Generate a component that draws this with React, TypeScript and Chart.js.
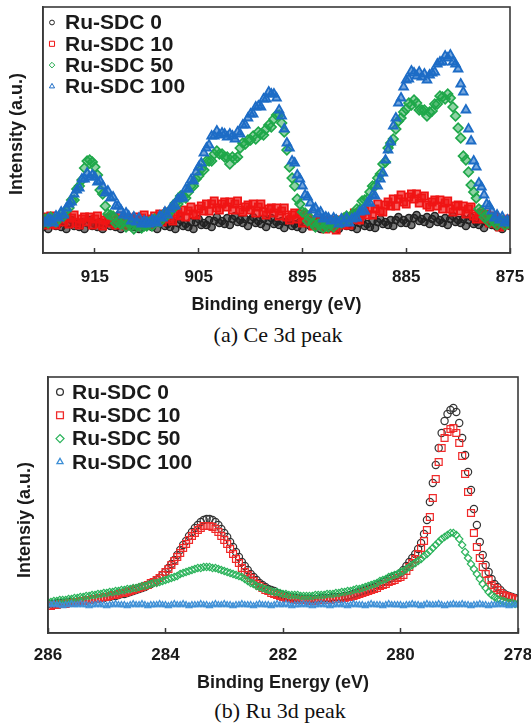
import React, { useEffect, useRef } from 'react';
import { Chart, registerables } from 'chart.js';
import { drawPoint } from 'chart.js/helpers';

Chart.register(...registerables);

// ---------------- shared ----------------
const SERIES_LABELS = ['Ru-SDC 0', 'Ru-SDC 10', 'Ru-SDC 50', 'Ru-SDC 100'];
const POINT_STYLES = ['circle', 'rect', 'rectRot', 'triangle'];

// ---------------- (a) Ce 3d peak ----------------
const CE_E_START = 920; // eV, first sample
const CE_E_STEP = 0.25; // eV between samples (decreasing)
const CE_TICKS = [915, 905, 895, 885, 875];
const CE_TITLE_X = 'Binding energy (eV)';
const CE_TITLE_Y = 'Intensity (a.u.)';
const CE_CAPTION = '(a) Ce 3d peak';

const CE_0 = [
  -3, 2, -5, 1, 4, -2, 0, -3, 2, -5,
  1, 4, -2, 0, -3, 2, -5, 1, 4, -2,
  0, -3, 2, -5, 1, 4, -2, 0, -3, 2,
  -5, 1, 4, -2, 0, -3, 2, -5, 1, 4,
  -2, 0, -3, 2, -5, 1, 4, -2, 0, -3,
  2, -5, 1, 4, -2, 0, -3, 2, -5, 2,
  5, -1, 1, -1, 4, -3, 3, 7, 1, 3,
  0, 6, -1, 5, 8, 2, 4, 1, 5, -2,
  4, 7, 1, 3, 0, 5, -3, 3, 6, 0,
  2, -1, 3, -4, 2, 5, -2, 0, -3, 2,
  -5, 1, 4, -2, 0, -3, 2, -5, 1, 4,
  -2, 0, -3, 2, -5, 1, 4, -2, 0, -3,
  2, -5, 1, 4, -2, 0, -3, 3, -4, 2,
  5, 0, 2, -1, 4, -2, 4, 7, 1, 4,
  1, 6, -1, 6, 9, 3, 5, 2, 7, 0,
  5, 8, 2, 4, 1, 6, -1, 5, 8, 2,
  4, 1, 5, -2, 4, 7, 0, 2, -1, 4,
  -4, 2, 5, -1, 0, -3, 2, -5, 1, 4,
  -2,
];
const CE_10 = [
  7, -1, 5, 8, 0, -1, 5, 7, 2, 8,
  0, 6, 9, 1, -1, 5, 7, 2, 7, -1,
  5, 8, 0, -2, 4, 6, 1, 7, -1, 5,
  8, 0, -2, 4, 6, 1, 7, 0, 6, 9,
  1, -1, 5, 8, 3, 10, 2, 9, 12, 5,
  3, 10, 12, 8, 14, 7, 13, 17, 10, 9,
  15, 18, 13, 20, 13, 20, 23, 16, 14, 20,
  22, 17, 22, 14, 20, 23, 14, 12, 17, 19,
  14, 20, 11, 17, 20, 12, 9, 15, 16, 11,
  16, 8, 13, 16, 7, 4, 9, 11, 5, 10,
  1, 7, 9, 1, -2, 3, 4, -1, 4, -5,
  1, 4, -4, -6, 1, 4, -1, 6, -1, 7,
  11, 5, 4, 11, 13, 9, 16, 9, 15, 20,
  13, 12, 19, 22, 18, 25, 18, 25, 29, 22,
  20, 27, 30, 25, 30, 21, 26, 28, 19, 17,
  22, 24, 18, 24, 15, 21, 23, 15, 12, 18,
  19, 13, 18, 10, 15, 17, 8, 5, 10, 11,
  5, 10, 1, 6, 8, 0, -3, 3, 4, -1,
  5,
];
const CE_50 = [
  1, 5, 1, 7, 4, 2, 7, 10, 8, 14,
  16, 24, 24, 35, 38, 44, 56, 63, 64, 62,
  57, 49, 34, 30, 18, 10, 9, 8, 1, 2,
  0, 2, -3, 2, -2, -5, -1, 0, -4, -2,
  -2, 2, -2, 5, 3, 2, 8, 11, 9, 14,
  15, 21, 20, 28, 27, 26, 32, 38, 38, 45,
  48, 55, 54, 63, 63, 63, 70, 73, 70, 70,
  67, 67, 60, 67, 65, 67, 76, 81, 80, 84,
  84, 88, 85, 92, 90, 89, 95, 99, 97, 105,
  109, 109, 101, 92, 74, 57, 46, 38, 25, 20,
  12, 11, 3, 6, 1, -3, 0, 0, -4, -2,
  -3, 1, -3, 4, 2, 1, 6, 8, 5, 9,
  9, 15, 14, 23, 24, 25, 32, 38, 38, 46,
  50, 60, 62, 76, 81, 85, 95, 103, 106, 112,
  115, 121, 119, 124, 121, 114, 114, 114, 108, 112,
  113, 120, 120, 128, 127, 125, 130, 126, 117, 108,
  96, 86, 68, 64, 52, 39, 32, 26, 15, 13,
  7, 8, 2, 6, 2, -1, 2, 3, -1, 1,
  0,
];
const CE_100 = [
  3, 1, 5, 4, 1, 8, 6, 12, 9, 16,
  20, 22, 30, 34, 36, 45, 45, 51, 47, 49,
  47, 42, 43, 38, 31, 33, 26, 27, 18, 18,
  14, 9, 11, 8, 3, 7, 2, 6, 0, 3,
  2, 0, 4, 3, 1, 8, 6, 12, 9, 15,
  18, 18, 25, 26, 26, 35, 35, 44, 43, 52,
  57, 61, 71, 76, 79, 88, 88, 93, 89, 91,
  90, 87, 90, 88, 85, 92, 90, 99, 99, 106,
  110, 110, 117, 118, 117, 125, 125, 132, 130, 130,
  126, 114, 108, 95, 81, 76, 63, 61, 49, 45,
  38, 29, 27, 21, 14, 16, 10, 12, 5, 7,
  6, 3, 6, 4, 0, 5, 1, 6, 1, 5,
  6, 6, 12, 13, 13, 21, 21, 29, 28, 38,
  45, 51, 64, 74, 82, 98, 106, 121, 126, 137,
  144, 145, 153, 151, 148, 152, 147, 150, 144, 149,
  151, 152, 160, 162, 162, 168, 166, 169, 162, 160,
  155, 140, 132, 114, 95, 83, 63, 57, 41, 37,
  29, 20, 18, 13, 6, 9, 4, 7, 1, 4,
  3,
];

// ---------------- (b) Ru 3d peak ----------------
const RU_E_START = 286;
const RU_E_STEP = 0.05;
const RU_TICKS = [286, 284, 282, 280, 278];
const RU_TITLE_X = 'Binding Energy (eV)';
const RU_TITLE_Y = 'Intensiy (a.u.)';
const RU_CAPTION = '(b) Ru 3d peak';

const RU_0 = [
  1, 1, 1, 2, 2, 2, 2, 3, 3, 3,
  3, 4, 4, 4, 5, 5, 6, 6, 7, 7,
  8, 8, 9, 9, 10, 11, 11, 12, 13, 14,
  15, 16, 17, 18, 20, 21, 23, 25, 27, 30,
  33, 37, 41, 45, 50, 55, 60, 64, 69, 73,
  77, 80, 83, 85, 86, 86, 85, 83, 80, 76,
  72, 68, 63, 58, 53, 48, 43, 39, 35, 31,
  28, 25, 22, 20, 18, 16, 15, 14, 12, 11,
  10, 9, 8, 8, 7, 7, 6, 6, 6, 6,
  6, 6, 6, 7, 7, 7, 7, 8, 8, 8,
  8, 9, 9, 10, 11, 12, 13, 14, 15, 16,
  17, 18, 20, 21, 23, 24, 26, 27, 29, 30,
  32, 35, 39, 43, 47, 51, 56, 62, 71, 85,
  103, 122, 140, 157, 172, 184, 191, 195, 197, 193,
  182, 167, 150, 133, 115, 96, 80, 63, 50, 40,
  33, 26, 21, 18, 15, 12, 10, 9, 8, 7,
  6,
];
const RU_10 = [
  -1, -1, 0, 0, 1, 1, 1, 2, 2, 3,
  3, 4, 4, 5, 5, 6, 6, 7, 7, 8,
  8, 9, 10, 10, 11, 12, 12, 13, 14, 15,
  16, 17, 18, 19, 20, 22, 23, 25, 27, 30,
  33, 36, 40, 44, 48, 52, 57, 61, 65, 69,
  72, 75, 77, 79, 79, 79, 78, 76, 73, 69,
  65, 61, 56, 51, 46, 42, 37, 33, 30, 27,
  24, 21, 19, 17, 15, 14, 12, 11, 10, 9,
  8, 7, 7, 6, 6, 5, 5, 5, 5, 4,
  4, 4, 5, 5, 5, 5, 5, 6, 6, 6,
  7, 7, 8, 8, 9, 10, 11, 12, 13, 14,
  15, 16, 17, 19, 20, 21, 23, 24, 25, 27,
  28, 30, 34, 38, 42, 46, 51, 57, 64, 75,
  88, 107, 126, 143, 157, 167, 173, 176, 177, 172,
  162, 149, 131, 113, 92, 72, 58, 47, 38, 31,
  25, 20, 17, 15, 12, 10, 9, 8, 7, 6,
  6,
];
const RU_50 = [
  3, 3, 4, 4, 5, 5, 5, 6, 6, 7,
  7, 8, 8, 9, 9, 10, 10, 11, 11, 12,
  12, 13, 13, 14, 14, 15, 15, 16, 16, 17,
  17, 18, 19, 19, 20, 21, 22, 22, 23, 24,
  25, 26, 27, 28, 29, 31, 32, 33, 34, 35,
  36, 37, 37, 38, 38, 38, 37, 37, 36, 35,
  34, 33, 32, 31, 30, 29, 28, 26, 24, 22,
  21, 19, 18, 17, 16, 15, 14, 13, 13, 12,
  11, 11, 10, 10, 10, 10, 9, 9, 9, 9,
  9, 10, 10, 10, 10, 11, 11, 11, 12, 12,
  13, 13, 14, 14, 15, 16, 16, 17, 18, 19,
  20, 21, 22, 24, 25, 26, 28, 29, 30, 31,
  33, 34, 36, 38, 40, 42, 44, 46, 49, 51,
  54, 57, 60, 63, 66, 68, 70, 72, 72, 70,
  66, 60, 53, 47, 41, 36, 31, 26, 21, 17,
  13, 10, 8, 6, 5, 4, 3, 2, 2, 1,
  1,
];
const RU_100 = [
  0, 0, 1, 0, 0, -1, 0, 0, 1, 0,
  0, 1, 0, 0, -1, 0, 0, 1, 0, 0,
  -1, 0, 0, 1, 0, 0, 0, -1, 0, 1,
  0, 0, 1, 0, -1, 0, 0, 0, 1, 0,
  0, -1, 0, 1, 0, 0, 1, 0, -1, 0,
  0, 0, 1, 0, 0, -1, 0, 1, 0, 0,
  1, 0, 0, -1, 0, 0, 1, 0, 0, 0,
  -1, 0, 1, 0, 0, 0, -1, 0, 1, 0,
  0, 1, 0, -1, 0, 0, 0, 1, 0, 0,
  -1, 0, 0, 1, 0, 0, -1, 0, 0, 1,
  0, 0, -1, 0, 1, 0, 0, 0, -1, 0,
  1, 0, 0, 0, -1, 0, 1, 0, 0, 0,
  0, -1, 0, 0, 1, 0, 0, -1, 0, 1,
  0, 0, 0, 1, 0, -1, 0, 0, 1, 0,
  0, 1, 0, 0, -1, 0, 0, 1, 0, 0,
  -1, 0, 0, 0, 1, 0, 0, -1, 0, 0,
  0,
];

// ---------------- styling ----------------
const SANS = '"Liberation Sans", Arial, Helvetica, sans-serif';
const SERIF = '"Liberation Serif", "Times New Roman", Times, serif';
const TEXT = '#1a1a1a';
const FRAME = '#3a3a3a';

const framePlugin = {
  id: 'frame',
  afterDatasetsDraw(chart: any, _a: any, opts: any) {
    const { ctx, chartArea: a } = chart;
    ctx.save();
    ctx.strokeStyle = opts.color || FRAME;
    ctx.lineWidth = opts.width || 1.5;
    ctx.strokeRect(a.left, a.top, a.right - a.left, a.bottom - a.top);
    ctx.restore();
  },
};

const insideLegendPlugin = {
  id: 'insideLegend',
  afterDatasetsDraw(chart: any, _a: any, opts: any) {
    if (!opts || !opts.display) return;
    const { ctx, chartArea: a } = chart;
    ctx.save();
    chart.data.datasets.forEach((ds: any, i: number) => {
      const y = a.top + opts.top + i * opts.rowHeight;
      ctx.fillStyle = 'rgba(0,0,0,0)';
      ctx.strokeStyle = ds.borderColor;
      ctx.lineWidth = opts.borderWidth;
      drawPoint(ctx, { pointStyle: ds.pointStyle, radius: opts.radii[i], borderWidth: opts.borderWidth, rotation: 0 } as any, a.left + opts.markerX, y);
      ctx.fillStyle = TEXT;
      ctx.font = opts.font;
      ctx.textAlign = 'left';
      ctx.textBaseline = 'middle';
      ctx.fillText(ds.label, a.left + opts.textX, y + 1);
    });
    ctx.restore();
  },
};

const sideTitlePlugin = {
  id: 'sideTitle',
  afterDraw(chart: any, _a: any, opts: any) {
    if (!opts || !opts.text) return;
    const { ctx } = chart;
    ctx.save();
    ctx.translate(opts.x, opts.y);
    ctx.rotate(-Math.PI / 2);
    ctx.font = opts.font;
    ctx.fillStyle = TEXT;
    ctx.textAlign = 'center';
    ctx.textBaseline = 'middle';
    ctx.fillText(opts.text, 0, 0);
    ctx.restore();
  },
};

function toPoints(values: number[], start: number, step: number) {
  return values.map((v, i) => ({ x: +(start - i * step).toFixed(2), y: v }));
}

function buildConfig(spec: any) {
  const datasets = spec.series.map((vals: number[], i: number) => ({
    label: SERIES_LABELS[i],
    data: toPoints(vals, spec.start, spec.step),
    borderColor: spec.colors[i],
    backgroundColor: spec.fills[i],
    pointBackgroundColor: spec.fills[i],
    pointBorderColor: spec.colors[i],
    pointStyle: POINT_STYLES[i],
    pointRadius: spec.radii[i],
    pointBorderWidth: spec.pointBorder[i],
    pointHoverRadius: 0,
    showLine: false,
    order: 4 - i,
  }));
  return {
    type: 'scatter',
    data: { datasets },
    plugins: [framePlugin, insideLegendPlugin, sideTitlePlugin],
    options: {
      responsive: false,
      animation: false,
      events: [],
      layout: { padding: spec.padding },
      plugins: {
        legend: { display: false },
        tooltip: { enabled: false },
        frame: { color: FRAME, width: 1.6 },
        insideLegend: spec.legend,
        sideTitle: spec.yTitle,
      },
      scales: {
        x: {
          type: 'linear',
          min: spec.xMin,
          max: spec.xMax,
          reverse: true,
          afterBuildTicks: (s: any) => {
            s.ticks = spec.ticks.map((v: number) => ({ value: v }));
          },
          afterFit: (s: any) => {
            s.height = spec.xHeight;
            s.paddingLeft = 0;
            s.paddingRight = 0;
          },
          grid: {
            display: true,
            drawOnChartArea: false,
            drawTicks: true,
            tickLength: -5,
            color: FRAME,
            tickColor: FRAME,
            tickWidth: 1.5,
          },
          border: { display: true, color: FRAME, width: 1.6 },
          ticks: {
            autoSkip: false,
            maxRotation: 0,
            padding: spec.tickPad,
            color: TEXT,
            font: { family: SANS, size: 17, weight: 'bold' },
            callback: (v: any) => String(v),
          },
          title: {
            display: true,
            text: spec.xTitle,
            color: TEXT,
            font: { family: SANS, size: 18, weight: 'bold' },
            padding: { top: 0, bottom: 4 },
          },
        },
        y: {
          type: 'linear',
          min: spec.yMin,
          max: spec.yMax,
          afterFit: (s: any) => {
            s.width = spec.yWidth;
            s.paddingTop = 0;
            s.paddingBottom = 0;
          },
          ticks: { display: false },
          grid: { display: false },
          border: { display: true, color: FRAME, width: 1.6 },
          title: { display: false },
        },
      },
    },
  };
}

const CE_SPEC = {
  series: [CE_0, CE_10, CE_50, CE_100],
  start: CE_E_START,
  step: CE_E_STEP,
  ticks: CE_TICKS,
  xMin: 875,
  xMax: 920,
  yMin: -29,
  yMax: 217,
  colors: ['#222222', '#f01414', '#1fa84a', '#1d6cc6'],
  fills: ['rgba(34,34,34,0.6)', 'rgba(240,20,20,0.65)', 'rgba(31,168,74,0.5)', 'rgba(29,108,198,0.6)'],
  radii: [3.6, 5, 4.8, 5],
  pointBorder: [1.5, 1.8, 1.7, 1.8],
  padding: { left: 0, right: 21, top: 7, bottom: 0 },
  yWidth: 43,
  xHeight: 67,
  tickPad: 19,
  xTitle: CE_TITLE_X,
  yTitle: { text: CE_TITLE_Y, x: 17, y: 134, font: `bold 18px ${SANS}` },
  legend: {
    display: true,
    markerX: 9,
    textX: 22,
    top: 15.5,
    rowHeight: 21.3,
    radii: [2.4, 3.6, 2.8, 3],
    borderWidth: 1,
    font: `bold 21px ${SANS}`,
  },
};

const RU_SPEC = {
  series: [RU_0, RU_10, RU_50, RU_100],
  start: RU_E_START,
  step: RU_E_STEP,
  ticks: RU_TICKS,
  xMin: 278,
  xMax: 286,
  yMin: -28,
  yMax: 228,
  colors: ['#333333', '#f02a2a', '#2ab35a', '#3d8fd6'],
  fills: ['rgba(0,0,0,0)', 'rgba(0,0,0,0)', 'rgba(0,0,0,0)', 'rgba(61,143,214,0.35)'],
  radii: [3.6, 4.9, 3.7, 3.5],
  pointBorder: [1.2, 1.2, 1.1, 1.2],
  padding: { left: 0, right: 13, top: 17, bottom: 0 },
  yWidth: 48,
  xHeight: 65,
  tickPad: 17,
  xTitle: RU_TITLE_X,
  yTitle: { text: RU_TITLE_Y, x: 25, y: 160, font: `bold 18px ${SANS}` },
  legend: {
    display: true,
    markerX: 12,
    textX: 24,
    top: 15,
    rowHeight: 23.3,
    radii: [3.4, 4.8, 4, 3.5],
    borderWidth: 1.3,
    font: `bold 21px ${SANS}`,
  },
};

function ChartCanvas({ spec, top, width, height }: any) {
  const ref = useRef<HTMLCanvasElement | null>(null);
  useEffect(() => {
    if (!ref.current) return;
    const chart = new Chart(ref.current, buildConfig(spec) as any);
    return () => chart.destroy();
  }, [spec]);
  return (
    <canvas
      ref={ref}
      width={width}
      height={height}
      style={{ position: 'absolute', left: 0, top, width, height, display: 'block' }}
    />
  );
}

function Caption({ text, cx, top }: any) {
  return (
    <div
      style={{
        position: 'absolute',
        left: cx,
        top,
        transform: 'translateX(-50%)',
        fontFamily: SERIF,
        fontSize: 22,
        lineHeight: '22px',
        color: '#111',
        whiteSpace: 'nowrap',
      }}
    >
      {text}
    </div>
  );
}

export default function App() {
  return (
    <div
      style={{
        position: 'absolute',
        left: 0,
        top: 0,
        width: 531,
        height: 726,
        background: '#ffffff',
        overflow: 'hidden',
      }}
    >
      <ChartCanvas spec={CE_SPEC} top={0} width={531} height={320} />
      <Caption text={CE_CAPTION} cx={278} top={324} />
      <ChartCanvas spec={RU_SPEC} top={360} width={531} height={338} />
      <Caption text={RU_CAPTION} cx={280} top={700} />
    </div>
  );
}
